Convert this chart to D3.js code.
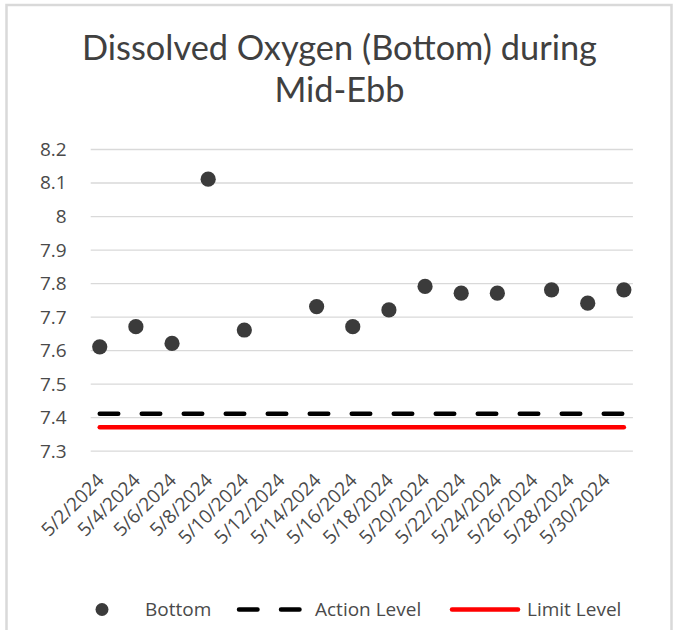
<!DOCTYPE html>
<html><head><meta charset="utf-8">
<script src="https://cdn.jsdelivr.net/npm/d3@7"></script>
<style>body{margin:0;background:#fff}svg{display:block}</style>
</head><body>
<script>
const titleLines = ["Dissolved Oxygen (Bottom) during", "Mid-Ebb"];
const dates = ["5/2/2024","5/4/2024","5/6/2024","5/8/2024","5/10/2024","5/14/2024","5/16/2024","5/18/2024","5/20/2024","5/22/2024","5/24/2024","5/27/2024","5/29/2024","5/31/2024"];
const bottom = [7.61,7.67,7.62,8.11,7.66,7.73,7.67,7.72,7.79,7.77,7.77,7.78,7.74,7.78];
const actionLevel = [7.41,7.41,7.41,7.41,7.41,7.41,7.41,7.41,7.41,7.41,7.41,7.41,7.41,7.41];
const limitLevel = [7.37,7.37,7.37,7.37,7.37,7.37,7.37,7.37,7.37,7.37,7.37,7.37,7.37,7.37];
const xTickLabels = ["5/2/2024","5/4/2024","5/6/2024","5/8/2024","5/10/2024","5/12/2024","5/14/2024","5/16/2024","5/18/2024","5/20/2024","5/22/2024","5/24/2024","5/26/2024","5/28/2024","5/30/2024"];
const yTicks = [7.3,7.4,7.5,7.6,7.7,7.8,7.9,8,8.1,8.2];
const yTickLabels = ["7.3","7.4","7.5","7.6","7.7","7.8","7.9","8","8.1","8.2"];
const seriesNames = ["Bottom","Action Level","Limit Level"];

const W = 674, H = 630;
const FONT = "'Open Sans', 'Noto Sans', sans-serif";
const TFONT = "Lato, 'Open Sans', sans-serif";
const TXT = "#4a4a4a";
const parse = d3.timeParse("%m/%d/%Y");

const svg = d3.select("body").append("svg").attr("width", W).attr("height", H);
svg.append("rect").attr("x",6.5).attr("y",5).attr("width",665).attr("height",640)
  .attr("fill","#fff").attr("stroke","#d9d9d9").attr("stroke-width",2.5);

const pLeft = 90.7, pRight = 632.9, pTop = 149, pBot = 450.7;
const x = d3.scaleTime()
  .domain([new Date(2024,4,1,12), new Date(2024,4,31,12)])
  .range([pLeft, pRight]);
const y = d3.scaleLinear().domain([7.3, 8.2]).range([pBot, pTop]);

function fit(sel, target) {
  const w = sel.node().getComputedTextLength();
  const fs = parseFloat(sel.attr("font-size"));
  sel.attr("font-size", fs * target / w);
}

// title
const t1 = svg.append("text").attr("x", 339.5).attr("y", 60).attr("text-anchor","middle")
  .attr("font-family", TFONT).attr("font-weight", 400).attr("font-size", 30).attr("fill", "#404040").text(titleLines[0]);
fit(t1, 515);
svg.append("text").attr("x", 339.5).attr("y", 102).attr("text-anchor","middle")
  .attr("font-family", TFONT).attr("font-weight", 400).attr("font-size", t1.attr("font-size")).attr("fill", "#404040").text(titleLines[1]);

// gridlines + y axis
const yAxis = d3.axisLeft(y).tickValues(yTicks).tickSize(-(pRight-pLeft)).tickPadding(24)
  .tickFormat((d,i) => yTickLabels[i]);
const gy = svg.append("g").attr("transform", `translate(${pLeft},0)`).call(yAxis);
gy.select(".domain").remove();
gy.selectAll("line").attr("stroke","#d9d9d9").attr("stroke-width",1.3);
gy.selectAll("text").attr("font-family", FONT).attr("font-size", 19).attr("fill", TXT).attr("dy","0.34em");

// x axis labels
const xAxis = d3.axisBottom(x).tickValues(xTickLabels.map(parse)).tickSize(0)
  .tickFormat((d,i) => xTickLabels[i]);
const gx = svg.append("g").attr("transform", `translate(0,${pBot})`).call(xAxis);
gx.select(".domain").remove();
gx.selectAll("text").attr("font-family", FONT).attr("font-size", 19).attr("fill", TXT)
  .attr("text-anchor","end").attr("dy", null)
  .attr("transform","translate(0,26) rotate(-45)")
  .attr("x", 0).attr("y", 0).attr("dominant-baseline","central");

// lines
const line = d3.line().x((d,i) => x(parse(dates[i]))).y(d => y(d));
svg.append("path").datum(limitLevel).attr("d", line).attr("fill","none")
  .attr("stroke","#ff0000").attr("stroke-width",4.5).attr("stroke-linecap","round");
svg.append("path").datum(actionLevel).attr("d", line).attr("fill","none")
  .attr("stroke","#000").attr("stroke-width",4.5).attr("stroke-linecap","round")
  .attr("stroke-dasharray","18.5,23.5");

// points
svg.append("g").selectAll("circle").data(bottom).join("circle")
  .attr("cx",(d,i) => x(parse(dates[i]))).attr("cy", d => y(d)).attr("r",7.6).attr("fill","#3b3b3b");

// legend
const lg = svg.append("g");
lg.append("circle").attr("cx",102).attr("cy",609.5).attr("r",6.5).attr("fill","#3b3b3b");
lg.append("line").attr("x1",239).attr("x2",300).attr("y1",609.5).attr("y2",609.5)
  .attr("stroke","#000").attr("stroke-width",4.5).attr("stroke-linecap","round").attr("stroke-dasharray","18.5,23.5");
lg.append("line").attr("x1",452).attr("x2",518).attr("y1",609.5).attr("y2",609.5)
  .attr("stroke","#ff0000").attr("stroke-width",4.5).attr("stroke-linecap","round");
const legX = [145, 315, 527];
seriesNames.forEach((n,i) => {
  lg.append("text").attr("x", legX[i]).attr("y", 609.5).attr("dy","0.34em")
    .attr("font-family", FONT).attr("font-size", 19).attr("fill", TXT).text(n);
});
</script>
</body></html>
